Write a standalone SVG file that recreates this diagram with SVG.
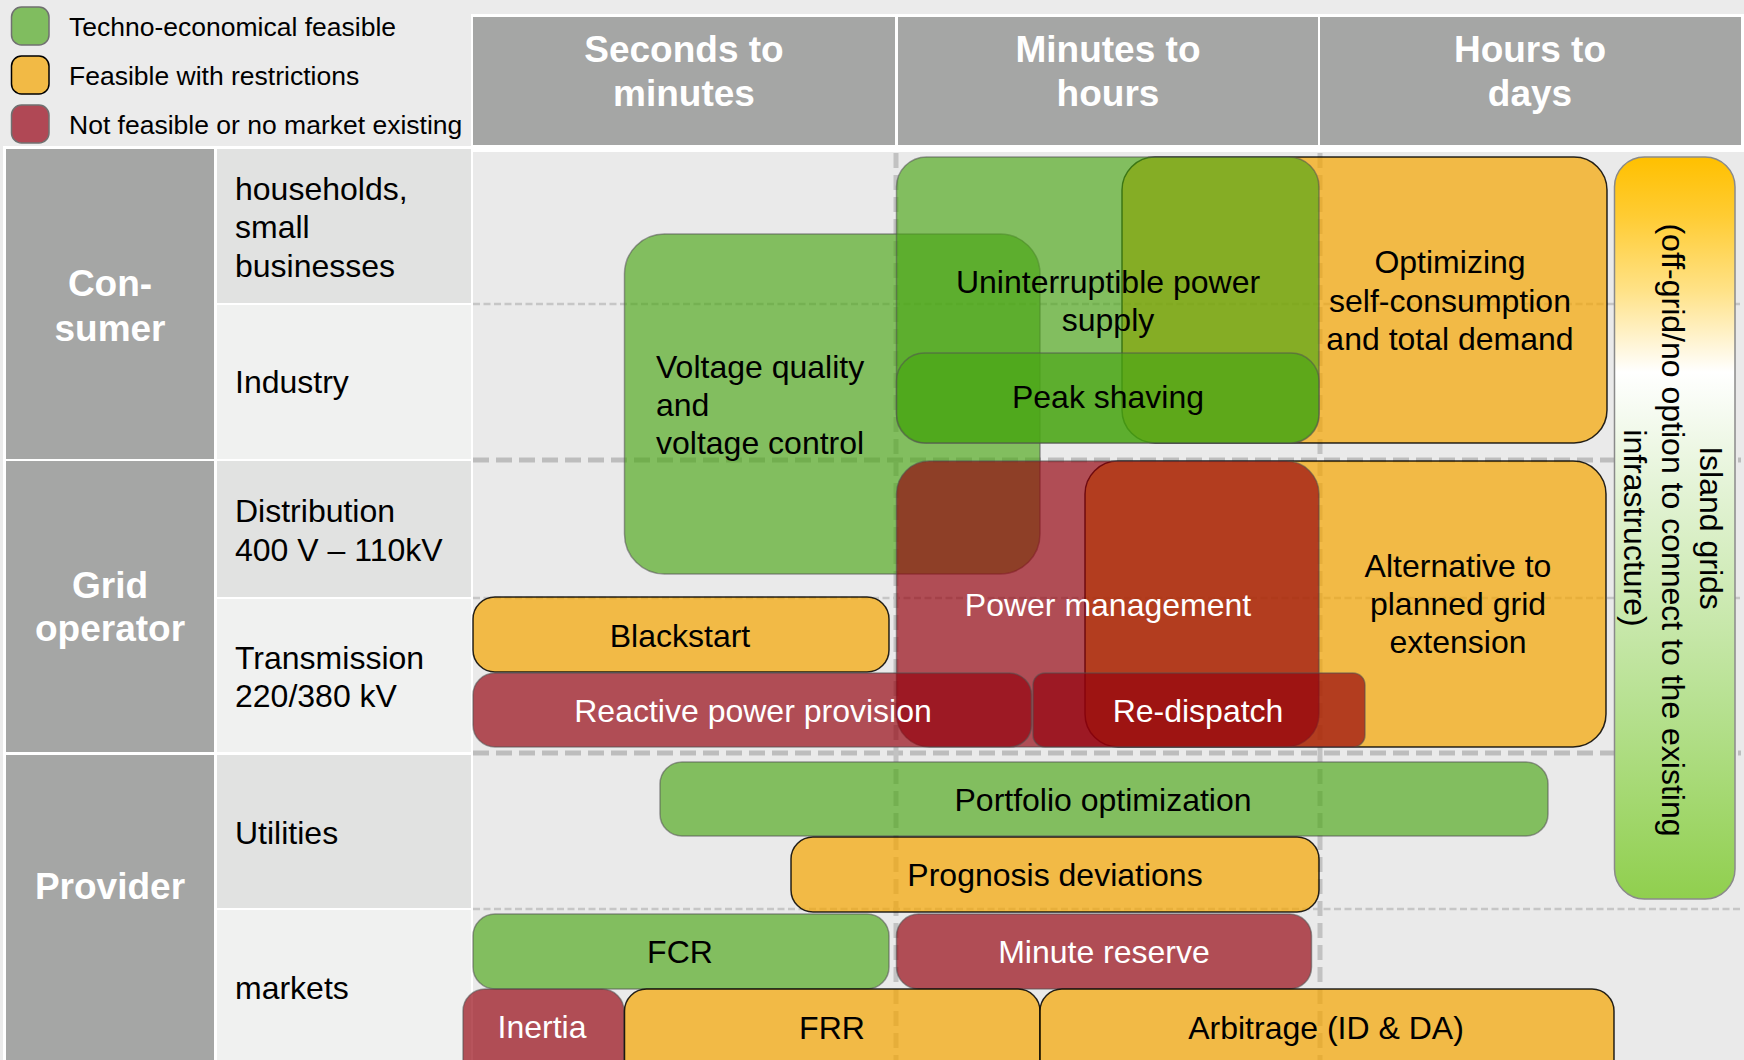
<svg xmlns="http://www.w3.org/2000/svg" width="1744" height="1060" viewBox="0 0 1744 1060">
<defs>
<linearGradient id="islandGrad" x1="0" y1="0" x2="0" y2="1">
<stop offset="0" stop-color="#FFC000"/>
<stop offset="0.08" stop-color="#FFCC33"/>
<stop offset="0.18" stop-color="#FFE287"/>
<stop offset="0.29" stop-color="#FFFFFF"/>
<stop offset="0.45" stop-color="#E3F3D5"/>
<stop offset="0.75" stop-color="#B5E08E"/>
<stop offset="1" stop-color="#90CF4E"/>
</linearGradient>
<style>
text{font-family:"Liberation Sans",Arial,Helvetica,sans-serif}
.hdr{font-size:37px;font-weight:bold;fill:#FFFFFF;text-anchor:middle}
.cat{font-size:37px;font-weight:bold;fill:#FFFFFF;text-anchor:middle}
.sub{font-size:32px;fill:#000000}
.leg{font-size:26.5px;fill:#000000}
.lbl{font-size:32px;fill:#000000;text-anchor:middle}
.lblw{font-size:32px;fill:#FFFFFF;text-anchor:middle}
.green{fill:#4AA614;fill-opacity:0.65;stroke:#505050;stroke-opacity:0.55;stroke-width:1.5}
.orange{fill:#F5A500;fill-opacity:0.7;stroke:#000000;stroke-opacity:0.85;stroke-width:1.5}
.red{fill:#93000C;fill-opacity:0.67;stroke:#505050;stroke-opacity:0.55;stroke-width:1.5}
.thick{stroke:#BDBDBD;stroke-width:5;stroke-dasharray:16 7;fill:none}
.thin{stroke:#C6C6C6;stroke-width:2.5;stroke-dasharray:7 3.5;fill:none}
.vert{stroke:#C2C2C2;stroke-width:5;stroke-dasharray:15 7;fill:none}
</style>
</defs>

<rect x="0" y="0" width="1744" height="1060" fill="#EBEBEB"/>

<g id="legend">
<rect x="11.5" y="7" width="37.5" height="38" rx="10" fill="#80BD5F" stroke="#707070" stroke-width="1.5"/>
<rect x="11.5" y="56" width="37.5" height="38" rx="10" fill="#F2BA45" stroke="#000000" stroke-width="1.5"/>
<rect x="11.5" y="105" width="37.5" height="38" rx="10" fill="#B04855" stroke="#707070" stroke-width="1.5"/>
<text class="leg" x="69" y="36">Techno-economical feasible</text>
<text class="leg" x="69" y="85">Feasible with restrictions</text>
<text class="leg" x="69" y="134">Not feasible or no market existing</text>
</g>

<g id="header">
<rect x="471" y="14" width="1273" height="138" fill="#FFFFFF"/>
<rect x="473" y="17" width="422" height="128" fill="#A5A6A5"/>
<rect x="898" y="17" width="420" height="128" fill="#A5A6A5"/>
<rect x="1320" y="17" width="421" height="128" fill="#A5A6A5"/>
<text class="hdr" x="684" y="62">Seconds to</text>
<text class="hdr" x="684" y="106">minutes</text>
<text class="hdr" x="1108" y="62">Minutes to</text>
<text class="hdr" x="1108" y="106">hours</text>
<text class="hdr" x="1530" y="62">Hours to</text>
<text class="hdr" x="1530" y="106">days</text>
</g>

<g id="rowheaders">
<rect x="3" y="146" width="470" height="914" fill="#FFFFFF"/>
<rect x="6" y="149" width="208" height="310" fill="#A5A6A5"/>
<rect x="6" y="461" width="208" height="291" fill="#A5A6A5"/>
<rect x="6" y="755" width="208" height="305" fill="#A5A6A5"/>
<rect x="217" y="149" width="254" height="154" fill="#E1E2E1"/>
<rect x="217" y="305" width="254" height="154" fill="#F0F1F0"/>
<rect x="217" y="461" width="254" height="136" fill="#E1E2E1"/>
<rect x="217" y="599" width="254" height="153" fill="#F0F1F0"/>
<rect x="217" y="755" width="254" height="153" fill="#E1E2E1"/>
<rect x="217" y="910" width="254" height="150" fill="#F0F1F0"/>
<text class="cat" x="110" y="296">Con-</text>
<text class="cat" x="110" y="341">sumer</text>
<text class="cat" x="110" y="598">Grid</text>
<text class="cat" x="110" y="641">operator</text>
<text class="cat" x="110" y="899">Provider</text>
<text class="sub" x="235" y="200">households,</text>
<text class="sub" x="235" y="238">small</text>
<text class="sub" x="235" y="277">businesses</text>
<text class="sub" x="235" y="393">Industry</text>
<text class="sub" x="235" y="522">Distribution</text>
<text class="sub" x="235" y="561">400 V – 110kV</text>
<text class="sub" x="235" y="669">Transmission</text>
<text class="sub" x="235" y="707">220/380 kV</text>
<text class="sub" x="235" y="844">Utilities</text>
<text class="sub" x="235" y="999">markets</text>
</g>

<rect x="473" y="152" width="1271" height="908" fill="#EAEAEA"/>

<g id="gridlines">
<line class="thin" x1="473" y1="304" x2="1741" y2="304"/>
<line class="thick" x1="473" y1="460" x2="1741" y2="460"/>
<line class="thin" x1="473" y1="598" x2="1741" y2="598"/>
<line class="thick" x1="473" y1="753" x2="1741" y2="753"/>
<line class="thin" x1="473" y1="909" x2="1741" y2="909"/>
<line class="vert" x1="896" y1="153" x2="896" y2="1060"/>
<line class="vert" x1="1320" y1="153" x2="1320" y2="1060"/>
</g>

<g id="connectors"></g>

<g id="optimizing">
<rect class="orange" x="1122" y="157" width="485" height="286" rx="33"/>
<text class="lbl" x="1450" y="273">Optimizing</text>
<text class="lbl" x="1450" y="312">self-consumption</text>
<text class="lbl" x="1450" y="350">and total demand</text>
</g>

<g id="alternative">
<rect class="orange" x="1085" y="461" width="521" height="286" rx="33"/>
<text class="lbl" x="1458" y="577">Alternative to</text>
<text class="lbl" x="1458" y="615">planned grid</text>
<text class="lbl" x="1458" y="653">extension</text>
</g>

<g id="voltage">
<rect class="green" x="624.5" y="234" width="415.5" height="340" rx="40"/>
<text class="sub" x="656" y="378">Voltage quality</text>
<text class="sub" x="656" y="416">and</text>
<text class="sub" x="656" y="454">voltage control</text>
</g>

<g id="ups">
<rect class="green" x="896.5" y="157" width="422.5" height="286" rx="30"/>
<text class="lbl" x="1108" y="293">Uninterruptible power</text>
<text class="lbl" x="1108" y="331">supply</text>
</g>

<g id="peakshaving">
<rect class="green" x="896.5" y="353" width="422.5" height="90" rx="28"/>
<text class="lbl" x="1108" y="408">Peak shaving</text>
</g>

<g id="powermanagement">
<rect class="red" x="896.5" y="461" width="422.5" height="286" rx="33"/>
<text class="lblw" x="1108" y="616">Power management</text>
</g>

<g id="blackstart">
<rect class="orange" x="473" y="597" width="416" height="75" rx="22"/>
<text class="lbl" x="680" y="647">Blackstart</text>
</g>

<g id="reactive">
<rect class="red" x="473" y="673" width="558.5" height="74" rx="22"/>
<text class="lblw" x="753" y="722">Reactive power provision</text>
</g>

<g id="redispatch">
<rect class="red" x="1033" y="673" width="332" height="74" rx="12"/>
<text class="lblw" x="1198" y="722">Re-dispatch</text>
</g>

<g id="portfolio">
<rect class="green" x="660" y="762" width="888" height="74" rx="22"/>
<text class="lbl" x="1103" y="811">Portfolio optimization</text>
</g>

<g id="prognosis">
<rect class="orange" x="791" y="837" width="528" height="75" rx="22"/>
<text class="lbl" x="1055" y="886">Prognosis deviations</text>
</g>

<g id="fcr">
<rect class="green" x="473" y="914" width="416" height="75" rx="22"/>
<text class="lbl" x="680" y="963">FCR</text>
</g>

<g id="minutereserve">
<rect class="red" x="896.5" y="914" width="415" height="75" rx="22"/>
<text class="lblw" x="1104" y="963">Minute reserve</text>
</g>

<g id="inertia">
<rect class="red" x="463" y="989" width="161" height="100" rx="22"/>
<text class="lblw" x="542" y="1038">Inertia</text>
</g>

<g id="frr">
<rect class="orange" x="624.5" y="989" width="415.5" height="100" rx="22"/>
<text class="lbl" x="832" y="1039">FRR</text>
</g>

<g id="arbitrage">
<rect class="orange" x="1040" y="989" width="574" height="100" rx="22"/>
<text class="lbl" x="1326" y="1039">Arbitrage (ID &amp; DA)</text>
</g>

<g id="islandgrids">
<rect x="1614.5" y="157" width="120.5" height="742" rx="30" fill="url(#islandGrad)" stroke="#8A8A8A" stroke-width="1.5"/>
<text class="lbl" transform="translate(1700,528) rotate(90)" x="0" y="0">Island grids</text>
<text class="lbl" transform="translate(1662,530) rotate(90)" x="0" y="0">(off-grid/no option to connect to the existing</text>
<text class="lbl" transform="translate(1624,528) rotate(90)" x="0" y="0">infrastructure)</text>
</g>
</svg>
